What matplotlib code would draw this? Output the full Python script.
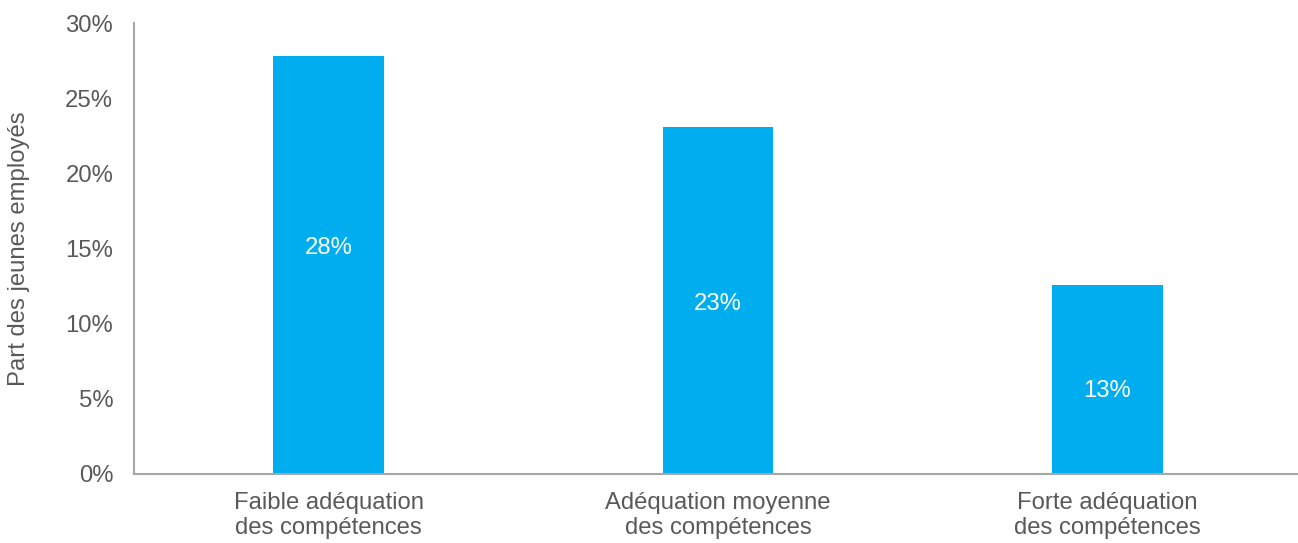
import matplotlib
matplotlib.use("Agg")
import matplotlib.pyplot as plt
from matplotlib.ticker import PercentFormatter

plt.rcParams['font.family'] = ['Liberation Sans', 'DejaVu Sans']

categories = ["Faible adéquation\ndes compétences",
              "Adéquation moyenne\ndes compétences",
              "Forte adéquation\ndes compétences"]
shares = [27.8, 23.1, 12.6]
y_ticks = [0, 5, 10, 15, 20, 25, 30]
y_label = "Part des jeunes employés"

bar_color = "#00AEEF"
text_color = "#595959"
axis_color = "#A6A6A6"
fs = 17.2

fig = plt.figure(figsize=(12.98, 5.43), dpi=100)
ax = fig.add_axes([134 / 1298, 69 / 543, 1 - 134 / 1298, 451 / 543])

x = range(len(categories))
bars = ax.bar(x, shares, width=0.284, color=bar_color, zorder=2)

# value labels inside the bars, placed slightly differently along each bar
label_frac = [0.54, 0.49, 0.44]
for b, v, f in zip(bars, shares, label_frac):
    ax.text(b.get_x() + b.get_width() / 2, v * f, f"{v:.0f}%",
            ha="center", va="center", color="white", fontsize=fs)

ax.set_xlim(-0.5, 2.49)
ax.set_ylim(0, 30)
ax.set_yticks(y_ticks)
ax.yaxis.set_major_formatter(PercentFormatter(decimals=0))
ax.set_xticks(list(x))
ax.set_xticklabels(categories, fontsize=fs, color=text_color, linespacing=1.2)
ax.tick_params(axis="y", length=0, pad=15, labelsize=fs, labelcolor=text_color)
ax.tick_params(axis="x", length=0, pad=13)

for s in ["top", "right"]:
    ax.spines[s].set_visible(False)
for s in ["left", "bottom"]:
    ax.spines[s].set_color(axis_color)
    ax.spines[s].set_linewidth(1.5)

ax.set_ylabel(y_label, fontsize=fs, color=text_color)
ax.yaxis.set_label_coords(-104 / 1164, 0.5)

fig.savefig("out.png", dpi=100)
